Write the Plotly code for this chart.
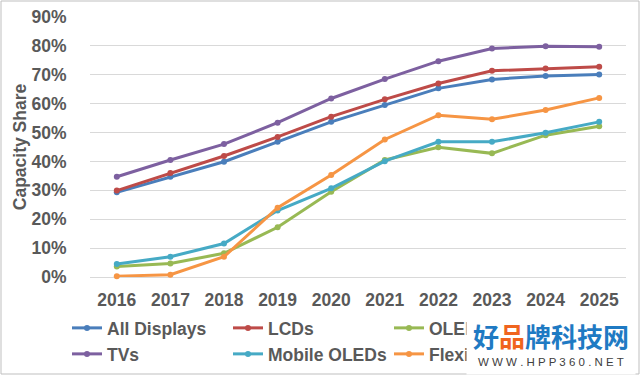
import plotly.graph_objects as go

years = ["2016", "2017", "2018", "2019", "2020", "2021", "2022", "2023", "2024", "2025"]
all_displays = [29.3, 34.7, 39.9, 46.8, 53.7, 59.5, 65.3, 68.4, 69.6, 70.1]
lcds = [29.9, 36.0, 41.9, 48.5, 55.5, 61.5, 67.0, 71.4, 72.2, 72.8]
oleds = [3.6, 4.7, 8.2, 17.2, 29.5, 40.5, 44.9, 42.8, 49.1, 52.2]
tvs = [34.7, 40.5, 46.0, 53.4, 61.8, 68.5, 74.7, 79.1, 79.9, 79.7]
mobile_oleds = [4.5, 7.0, 11.6, 23.0, 30.7, 40.1, 46.8, 46.8, 49.9, 53.7]
flexible_oleds = [0.3, 0.8, 7.0, 24.0, 35.3, 47.6, 56.0, 54.6, 57.8, 62.0]
y_ticks = [0, 10, 20, 30, 40, 50, 60, 70, 80, 90]
y_tick_labels = ["0%", "10%", "20%", "30%", "40%", "50%", "60%", "70%", "80%", "90%"]

series = [
    ("All Displays", all_displays, "#4A7EBB", "legend"),
    ("LCDs", lcds, "#BE4B48", "legend"),
    ("OLEDs", oleds, "#98B954", "legend"),
    ("TVs", tvs, "#7D60A0", "legend2"),
    ("Mobile OLEDs", mobile_oleds, "#46AAC5", "legend2"),
    ("Flexible OLEDs", flexible_oleds, "#F69544", "legend2"),
]

FONT = "Liberation Sans, Arial, sans-serif"
GREY = "#595959"

fig = go.Figure()
for name, vals, color, lg in series:
    fig.add_trace(go.Scatter(
        x=years, y=vals, name=name, mode="lines+markers",
        line=dict(color=color, width=3),
        marker=dict(color=color, size=6),
        legend=lg, cliponaxis=False,
    ))

W, H = 640, 375
L, R, T, B = 90, 14, 17, 98
pw, ph = W - L - R, H - T - B

def px_x(x):
    return (x - L) / pw

def px_y(y):
    return (H - B - y) / ph

legend_common = dict(
    orientation="h", xanchor="left", yanchor="middle",
    font=dict(family=FONT, size=17.5, color=GREY, weight="bold"),
    bgcolor="rgba(0,0,0,0)", entrywidth=116, traceorder="normal",
    itemwidth=30,
)

fig.update_layout(
    width=W, height=H,
    margin=dict(l=L, r=R, t=T, b=B, autoexpand=False),
    paper_bgcolor="white", plot_bgcolor="white",
    font=dict(family=FONT, color=GREY),
    showlegend=True,
    legend=dict(x=px_x(67), y=px_y(328), **legend_common),
    legend2=dict(x=px_x(67), y=px_y(354), **legend_common),
    xaxis=dict(
        type="category", range=[-0.5, len(years) - 0.5],
        showgrid=False, showline=False, zeroline=False,
        ticks="outside", ticklen=7, tickcolor="rgba(0,0,0,0)",
        tickfont=dict(family=FONT, size=17.5, color=GREY, weight="bold"),
        automargin=False,
    ),
    yaxis=dict(
        range=[0, 90], tickvals=y_ticks, ticktext=y_tick_labels,
        showgrid=True, gridcolor="#D9D9D9", gridwidth=1,
        zeroline=True, zerolinecolor="#D9D9D9", zerolinewidth=1,
        showline=False,
        ticks="outside", ticklen=19, tickcolor="rgba(0,0,0,0)",
        tickfont=dict(family=FONT, size=17.5, color=GREY, weight="bold"),
        title=dict(text="Capacity Share", standoff=0,
                   font=dict(family=FONT, size=17.5, color=GREY, weight="bold")),
        automargin=False,
    ),
    shapes=[
        dict(type="rect", xref="paper", yref="paper",
             x0=px_x(1), x1=px_x(639), y0=px_y(374), y1=px_y(1),
             line=dict(color="#BFBFBF", width=1), fillcolor="rgba(0,0,0,0)",
             layer="below"),
    ],
    annotations=[
        dict(xref="paper", yref="paper", x=px_x(466), y=px_y(307),
             xanchor="left", yanchor="top", showarrow=False,
             text=" ", width=168, height=66, bgcolor="white", borderpad=0,
             font=dict(size=10)),
        dict(xref="paper", yref="paper", x=px_x(551), y=px_y(335),
             xanchor="center", yanchor="middle", showarrow=False,
             text=("<span style='color:#1F7AC3'>好</span><span style='color:#F0641E'>品</span>"
                   "<span style='color:#1F7AC3'>牌科技网</span>"),
             font=dict(family="Noto Sans CJK SC", size=26, weight="bold")),
        dict(xref="paper", yref="paper", x=px_x(551), y=px_y(362),
             xanchor="center", yanchor="middle", showarrow=False,
             text="W W W . H P P 3 6 0 . N E T",
             font=dict(family=FONT, size=11.5, color="#404040")),
    ],
)

fig.write_html(
    "out.html",
    config={"displayModeBar": False},
    post_script="document.body.style.margin='0';document.body.style.padding='0';",
)
